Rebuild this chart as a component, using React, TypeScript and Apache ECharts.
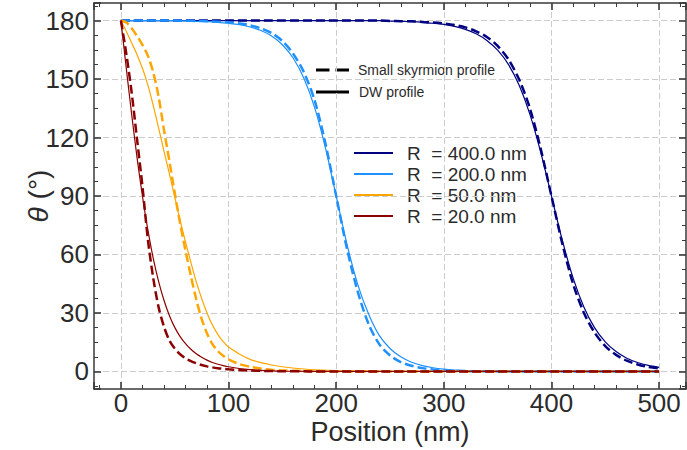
import React, { useEffect, useRef } from "react";
import * as echarts from "echarts";

const FONT = "'Liberation Sans', Arial, Helvetica, sans-serif";

// Positions (nm) for the small-radius profiles
const posNear = [0, 5, 10, 15, 20, 25, 30, 35, 40, 45, 50, 55, 60, 65, 70, 75, 80, 85, 90, 95, 100, 110, 120, 130, 140, 150, 175, 200, 250, 300, 400, 500];
// Positions (nm) for the large-radius profiles
const posFar = [0, 10, 20, 30, 40, 50, 60, 70, 80, 90, 100, 110, 120, 130, 140, 150, 160, 170, 180, 190, 200, 210, 220, 230, 240, 250, 260, 270, 280, 290, 300, 310, 320, 330, 340, 350, 360, 370, 380, 390, 400, 410, 420, 430, 440, 450, 460, 470, 480, 490, 500];

// theta (deg)
const dw20 = [180, 155.5, 131.9, 109.7, 90, 72.7, 58.1, 46.2, 36.5, 28.7, 22.6, 17.9, 14.3, 11.4, 9.1, 7.3, 5.8, 4.6, 3.7, 3.0, 2.4, 1.5, 0.9, 0.55, 0.35, 0.2, 0.06, 0.02, 0, 0, 0, 0];
const sk20 = [180, 163, 143, 119, 95, 68, 48, 33, 23, 16, 11.8, 8.8, 6.8, 5.3, 4.2, 3.3, 2.6, 2.1, 1.7, 1.4, 1.1, 0.7, 0.45, 0.3, 0.2, 0.1, 0.03, 0, 0, 0, 0, 0];
const dw50 = [180, 174.5, 168.5, 162.5, 155.5, 147, 136.5, 125, 113, 101.5, 89.5, 77.5, 66.5, 56, 46, 37.5, 30, 23.8, 19, 15.3, 12.5, 9, 6.2, 4.5, 3.3, 2.4, 1.0, 0.45, 0.1, 0.02, 0, 0];
const sk50 = [180, 179, 176, 172, 167.5, 162, 153.5, 141, 124, 108, 91.5, 76, 62, 49, 37, 27, 19.5, 14, 10.5, 8, 6.2, 3.8, 2.4, 1.5, 0.9, 0.55, 0.15, 0.05, 0, 0, 0, 0];
const dw200 = [180, 180, 180, 180, 180, 179.9, 179.8, 179.6, 179.4, 179.1, 178.6, 177.9, 176.7, 174.9, 172.1, 167.6, 160.8, 150.4, 135.3, 114.7, 90, 65.3, 44.7, 29.6, 18.5, 11.8, 7.5, 4.7, 3.0, 1.9, 1.2, 0.75, 0.48, 0.3, 0.19, 0.12, 0.08, 0.05, 0.03, 0.02, 0.01, 0, 0, 0, 0, 0, 0, 0, 0, 0, 0];
const sk200 = [180, 180, 180, 180, 180, 180, 179.9, 179.8, 179.6, 179.4, 179.1, 178.5, 177.6, 176.0, 173.6, 169.5, 163, 153.5, 139, 117, 90, 63, 41, 24.5, 14, 8.2, 4.8, 2.9, 1.7, 1.0, 0.6, 0.35, 0.2, 0.12, 0.07, 0.04, 0.02, 0.01, 0, 0, 0, 0, 0, 0, 0, 0, 0, 0, 0, 0, 0];
const dw400 = [180, 180, 180, 180, 180, 180, 180, 180, 180, 180, 180, 180, 180, 180, 180, 180, 180, 180, 180, 180, 180, 180, 180, 180, 180, 179.7, 179.6, 179.4, 179.1, 178.6, 178.0, 177.0, 175.5, 173.2, 169.8, 164.8, 157.5, 146.8, 131.9, 112.5, 90, 67.5, 48.1, 33.2, 22.5, 15.2, 10.2, 6.8, 4.6, 3.1, 2.1];
const sk400 = [180, 180, 180, 180, 180, 180, 180, 180, 180, 180, 180, 180, 180, 180, 180, 180, 180, 180, 180, 180, 180, 180, 180, 180, 180, 179.8, 179.7, 179.6, 179.3, 179.0, 178.5, 177.7, 176.5, 174.5, 171.6, 167.0, 160.1, 149.7, 134.9, 114.2, 90, 65.8, 45.1, 30.3, 20.0, 13.0, 8.5, 5.5, 3.6, 2.3, 1.5];

const radiusLabels = ["R\u00a0 = 400.0 nm", "R\u00a0 = 200.0 nm", "R\u00a0 = 50.0 nm", "R\u00a0 = 20.0 nm"];
const radiusColors = ["#000080", "#1E90FF", "#FFA500", "#8B0000"];
const styleLabels = ["Small skyrmion profile", "DW profile"];

const AXIS_COLOR = "#3a3a3a";
const TEXT_COLOR = "#2b2b2b";

function pairs(xs: number[], ys: number[]) {
  return xs.map((x, i) => [x, ys[i]]);
}

function solid(name: string, xs: number[], ys: number[], color: string) {
  return {
    type: "line",
    name,
    data: pairs(xs, ys),
    showSymbol: false,
    symbol: "none",
    smooth: 0.3,
    silent: true,
    lineStyle: { color, width: 1.2 },
  };
}

function dashed(name: string, xs: number[], ys: number[], color: string) {
  return {
    type: "line",
    name,
    data: pairs(xs, ys),
    showSymbol: false,
    symbol: "none",
    smooth: 0.3,
    silent: true,
    lineStyle: { color, width: 2.5, type: [9, 4] },
  };
}

function makeXAxis(position: "bottom" | "top") {
  const bottom = position === "bottom";
  return {
    type: "value",
    position,
    min: -25,
    max: 525,
    splitNumber: 5,
    axisLine: { show: true, onZero: false, lineStyle: { color: AXIS_COLOR, width: 1.5 } },
    axisTick: { show: true, inside: true, length: 7, lineStyle: { color: AXIS_COLOR, width: 1.6 } },
    minorTick: { show: true, splitNumber: 5, length: 4, lineStyle: { color: AXIS_COLOR, width: 1 } },
    axisLabel: {
      show: bottom,
      fontSize: 26,
      lineHeight: 22,
      fontFamily: FONT,
      color: TEXT_COLOR,
      margin: 3,
      showMinLabel: false,
      showMaxLabel: false,
      formatter: (v: number) => (v % 100 === 0 ? String(v) : ""),
    },
    splitLine: {
      show: bottom,
      showMinLine: false,
      showMaxLine: false,
      lineStyle: { color: "#cccccc", width: 1, type: [6, 3] },
    },
    name: bottom ? "Position (nm)" : "",
    nameLocation: "middle",
    nameGap: 31,
    nameMoveOverlap: false,
    nameTextStyle: { fontSize: 27, lineHeight: 24, fontFamily: FONT, color: TEXT_COLOR },
  };
}

function makeYAxis(position: "left" | "right") {
  const left = position === "left";
  return {
    type: "value",
    position,
    min: -9,
    max: 189,
    splitNumber: 5,
    axisLine: { show: true, onZero: false, lineStyle: { color: AXIS_COLOR, width: 1.5 } },
    axisTick: { show: true, inside: true, length: 7, lineStyle: { color: AXIS_COLOR, width: 1.6 } },
    minorTick: { show: true, splitNumber: 4, length: 4, lineStyle: { color: AXIS_COLOR, width: 1 } },
    axisLabel: {
      show: left,
      fontSize: 26,
      fontFamily: FONT,
      color: TEXT_COLOR,
      margin: 5,
      showMinLabel: false,
      showMaxLabel: false,
      formatter: (v: number) => (v % 30 === 0 ? String(v) : ""),
    },
    splitLine: {
      show: left,
      showMinLine: false,
      showMaxLine: false,
      lineStyle: { color: "#cccccc", width: 1, type: [6, 3] },
    },
    name: left ? "{i|θ} (°)" : "",
    nameLocation: "middle",
    nameGap: 42,
    nameMoveOverlap: false,
    nameTextStyle: {
      fontSize: 28,
      fontFamily: FONT,
      color: TEXT_COLOR,
      rich: { i: { fontStyle: "italic", fontSize: 28, fontFamily: FONT, color: TEXT_COLOR } },
    },
  };
}

function buildGraphic() {
  const els: any[] = [];
  // line-style legend
  els.push({
    type: "line",
    shape: { x1: 316, y1: 70, x2: 349, y2: 70 },
    style: { stroke: "#000", lineWidth: 3, lineDash: [13.5, 6] },
    silent: true,
  });
  els.push({
    type: "text",
    x: 358,
    y: 70,
    style: { text: styleLabels[0], fontSize: 14, fontFamily: FONT, fill: TEXT_COLOR, verticalAlign: "middle", align: "left" },
    silent: true,
  });
  els.push({
    type: "line",
    shape: { x1: 316, y1: 92, x2: 349, y2: 92 },
    style: { stroke: "#000", lineWidth: 3 },
    silent: true,
  });
  els.push({
    type: "text",
    x: 359,
    y: 92,
    style: { text: styleLabels[1], fontSize: 14, fontFamily: FONT, fill: TEXT_COLOR, verticalAlign: "middle", align: "left" },
    silent: true,
  });
  // radius legend
  const rowY = [153, 174, 195, 216];
  radiusLabels.forEach((label, i) => {
    els.push({
      type: "line",
      shape: { x1: 354, y1: rowY[i], x2: 393, y2: rowY[i] },
      style: { stroke: radiusColors[i], lineWidth: 2 },
      silent: true,
    });
    els.push({
      type: "text",
      x: 407,
      y: rowY[i],
      style: { text: label, fontSize: 19, fontFamily: FONT, fill: TEXT_COLOR, verticalAlign: "middle", align: "left" },
      silent: true,
    });
  });
  return els;
}

export default function App() {
  const ref = useRef<HTMLDivElement>(null);
  useEffect(() => {
    if (!ref.current) return;
    const chart = echarts.init(ref.current, undefined, { renderer: "svg" });
    const option = {
      animation: false,
      backgroundColor: "#ffffff",
      textStyle: { fontFamily: FONT },
      grid: { left: 94, right: 1, top: 3, bottom: 61, containLabel: false, outerBoundsMode: "none" },
      xAxis: [makeXAxis("bottom"), makeXAxis("top")],
      yAxis: [makeYAxis("left"), makeYAxis("right")],
      series: [
        solid("DW R=400", posFar, dw400, radiusColors[0]),
        dashed("Skyrmion R=400", posFar, sk400, radiusColors[0]),
        solid("DW R=200", posFar, dw200, radiusColors[1]),
        dashed("Skyrmion R=200", posFar, sk200, radiusColors[1]),
        solid("DW R=50", posNear, dw50, radiusColors[2]),
        dashed("Skyrmion R=50", posNear, sk50, radiusColors[2]),
        solid("DW R=20", posNear, dw20, radiusColors[3]),
        dashed("Skyrmion R=20", posNear, sk20, radiusColors[3]),
      ],
      graphic: buildGraphic(),
    };
    chart.setOption(option as any);
    return () => chart.dispose();
  }, []);
  return <div ref={ref} style={{ position: "fixed", left: 0, top: 0, width: 687, height: 450 }} />;
}
